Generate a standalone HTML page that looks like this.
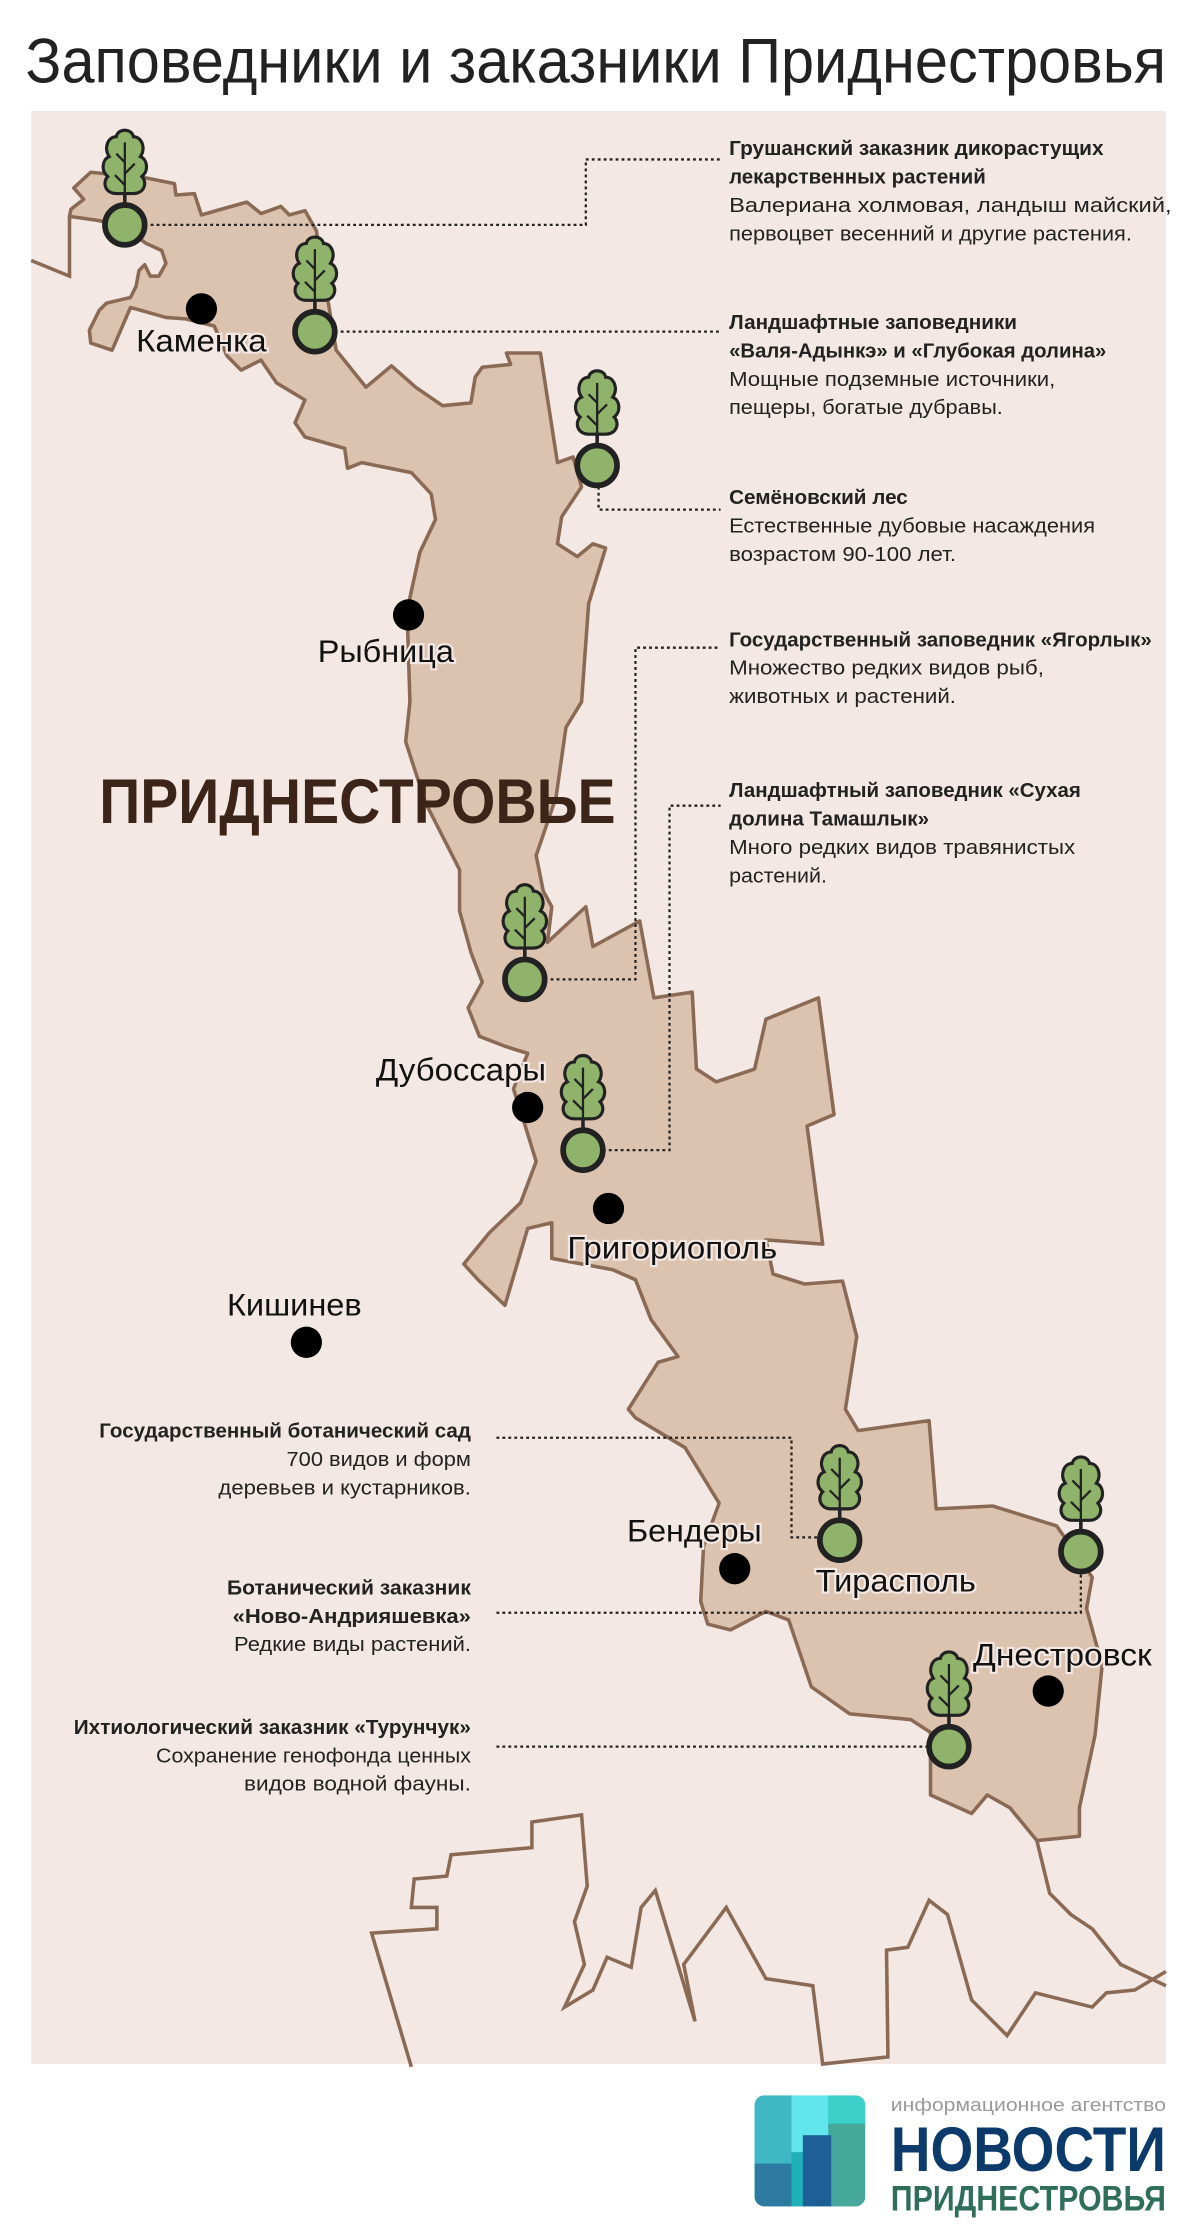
<!DOCTYPE html>
<html><head><meta charset="utf-8"><style>
html,body{margin:0;padding:0;background:#fff;}
svg{display:block;}
text{font-family:"Liberation Sans",sans-serif;}
.b{font-weight:bold;font-size:14.5px;fill:#222;}
.n{font-size:14.5px;fill:#222;}
.c{font-size:22px;fill:#111;paint-order:stroke;stroke:#f3e8e3;stroke-width:3px;}
.dl{fill:none;stroke:#222;stroke-width:1.6;stroke-dasharray:2 2.2;}
</style></head><body>
<svg width="1200" height="2232" viewBox="0 0 846 1568" preserveAspectRatio="none" xmlns="http://www.w3.org/2000/svg">
<defs>
<g id="tr">
<line x1="0" y1="-22" x2="0" y2="-12" stroke="#222" stroke-width="2.5"/>
<path d="M-6,-22 L6,-22 C14,-22 16,-30 12,-34 C17,-38 16,-46 11,-48 C15,-54 12,-62 6,-62 C5,-68 -5,-68 -6,-62 C-12,-62 -15,-54 -11,-48 C-16,-46 -17,-38 -12,-34 C-16,-30 -14,-22 -6,-22 Z" fill="#8fb36a" stroke="#222" stroke-width="2.2"/>
<path d="M0,-58 L0,-22 M0,-44 L-6,-50 M0,-36 L7,-43 M0,-28 L-7,-35" stroke="#222" stroke-width="1.6" fill="none"/>
<circle cx="0" cy="0" r="14" fill="#8fb36a" stroke="#222" stroke-width="4"/>
</g>
</defs>
<rect x="0" y="0" width="846" height="1568" fill="#fff"/>
<text x="18" y="58" font-size="44" fill="#222" textLength="804" lengthAdjust="spacingAndGlyphs">Заповедники и заказники Приднестровья</text>
<rect x="22" y="78" width="800" height="1372" fill="#f3e8e3"/>
<!-- other borders -->
<polyline points="22,183 49,194 49,152" fill="none" stroke="#8b6a55" stroke-width="2.5"/>
<polyline points="290,1452 262,1358 308,1355 308,1340 290,1340 292,1320 315,1318 318,1303 375,1298 375,1280 410,1275 414,1325 405,1350 412,1380 398,1410 418,1398 428,1375 445,1382 452,1340 462,1328 490,1420 482,1380 512,1340 540,1390 573,1395 580,1450 626,1445 625,1370 640,1368 655,1335 668,1345 685,1405 710,1430 730,1400 770,1410 780,1400 800,1398 822,1385" fill="none" stroke="#8b6a55" stroke-width="2.5"/>
<polyline points="731,1293 740,1330 755,1345 770,1355 790,1380 822,1395" fill="none" stroke="#8b6a55" stroke-width="2.5"/>
<!-- region -->
<path d="M52,132 L64,121 L103,125 L123,129 L124,137 L137,136 L142,151 L156,147 L174,142 L184,150 L198,145 L204,151 L215,148 L223,162 L237,246 L258,272 L276,257 L293,272 L312,285 L332,283 L335,265 L340,258 L360,256 L357,248 L381,248 L393,325 L404,321 L410,342 L396,363 L393,382 L407,391 L418,382 L427,385 L415,424 L410,493 L399,511 L392,560 L378,601 L383,626 L389,637 L386,662 L413,637 L418,665 L451,647 L461,701 L488,697 L491,751 L505,760 L532,751 L540,716 L577,701 L588,783 L569,791 L580,874 L540,871 L545,895 L567,902 L594,900 L604,939 L596,990 L605,1005 L655,998 L660,1060 L700,1058 L745,1072 L770,1108 L766,1130 L777,1170 L772,1219 L761,1270 L761,1290 L731,1293 L712,1270 L696,1261 L685,1274 L656,1261 L656,1217 L642,1208 L599,1204 L572,1185 L556,1138 L540,1132 L515,1145 L499,1141 L494,1125 L496,1086 L507,1056 L483,1017 L448,996 L443,990 L464,957 L478,953 L459,927 L448,899 L432,892 L389,884 L389,859 L372,863 L356,917 L337,899 L327,888 L345,866 L367,845 L378,816 L370,790 L362,765 L372,740 L356,735 L338,728 L330,708 L340,690 L332,669 L324,640 L324,611 L300,564 L286,521 L289,493 L287,429 L296,388 L307,365 L304,347 L290,332 L255,325 L245,329 L243,315 L215,307 L208,297 L215,281 L195,269 L184,253 L170,260 L160,250 L151,229 L131,224 L117,223 L92,216 L79,246 L64,241 L63,232 L70,218 L75,213 L92,209 L96,201 L98,190 L102,186 L106,194 L112,194 L117,185 L114,176 L103,171 L88,160 L70,155 L49,152 L50,147 L59,140 Z" fill="#dcc3b0" stroke="#8b6a55" stroke-width="2.5" stroke-linejoin="round"/>
<text x="70" y="578" font-size="44" font-weight="bold" fill="#3d2418" textLength="364" lengthAdjust="spacingAndGlyphs">ПРИДНЕСТРОВЬЕ</text>
<!-- connectors -->
<polyline class="dl" points="102,158 413,158 413,112 508,112"/>
<polyline class="dl" points="236,233 508,233"/>
<polyline class="dl" points="422,342 422,358 508,358"/>
<polyline class="dl" points="384,688 448,688 448,455 508,455"/>
<polyline class="dl" points="425,808 472,808 472,566 508,566"/>
<polyline class="dl" points="350,1010 558,1010 558,1080 578,1080"/>
<polyline class="dl" points="350,1133 762,1133 762,1104"/>
<polyline class="dl" points="350,1227 655,1227"/>
<!-- cities -->
<g fill="#000">
<circle cx="142" cy="217" r="11"/><circle cx="288" cy="432" r="11"/><circle cx="372" cy="778" r="11"/>
<circle cx="429" cy="849" r="11"/><circle cx="216" cy="943" r="11"/><circle cx="518" cy="1102" r="11"/>
<circle cx="739" cy="1188" r="11"/>
</g>
<text class="c" x="96" y="247" textLength="92" lengthAdjust="spacingAndGlyphs">Каменка</text>
<text class="c" x="224" y="465" textLength="96" lengthAdjust="spacingAndGlyphs">Рыбница</text>
<text class="c" x="265" y="759" textLength="120" lengthAdjust="spacingAndGlyphs">Дубоссары</text>
<text class="c" x="400" y="884" textLength="148" lengthAdjust="spacingAndGlyphs">Григориополь</text>
<text class="c" x="160" y="924" textLength="95" lengthAdjust="spacingAndGlyphs">Кишинев</text>
<text class="c" x="442" y="1083" textLength="95" lengthAdjust="spacingAndGlyphs">Бендеры</text>
<text class="c" x="575" y="1118" textLength="113" lengthAdjust="spacingAndGlyphs">Тирасполь</text>
<text class="c" x="686" y="1170" textLength="126" lengthAdjust="spacingAndGlyphs">Днестровск</text>
<!-- trees -->
<use href="#tr" x="88" y="158"/><use href="#tr" x="222" y="233"/><use href="#tr" x="421" y="327"/>
<use href="#tr" x="370" y="688"/><use href="#tr" x="411" y="808"/><use href="#tr" x="592" y="1082"/>
<use href="#tr" x="762" y="1090"/><use href="#tr" x="669" y="1227"/>
<!-- right texts -->
<g>
<text class="b" x="514" y="109" textLength="264" lengthAdjust="spacingAndGlyphs">Грушанский заказник дикорастущих</text>
<text class="b" x="514" y="129" textLength="181" lengthAdjust="spacingAndGlyphs">лекарственных растений</text>
<text class="n" x="514" y="149" textLength="312" lengthAdjust="spacingAndGlyphs">Валериана холмовая, ландыш майский,</text>
<text class="n" x="514" y="169" textLength="284" lengthAdjust="spacingAndGlyphs">первоцвет весенний и другие растения.</text>
<text class="b" x="514" y="231" textLength="203" lengthAdjust="spacingAndGlyphs">Ландшафтные заповедники</text>
<text class="b" x="514" y="251" textLength="266" lengthAdjust="spacingAndGlyphs">«Валя-Адынкэ» и «Глубокая долина»</text>
<text class="n" x="514" y="271" textLength="230" lengthAdjust="spacingAndGlyphs">Мощные подземные источники,</text>
<text class="n" x="514" y="291" textLength="193" lengthAdjust="spacingAndGlyphs">пещеры, богатые дубравы.</text>
<text class="b" x="514" y="354" textLength="126" lengthAdjust="spacingAndGlyphs">Семёновский лес</text>
<text class="n" x="514" y="374" textLength="258" lengthAdjust="spacingAndGlyphs">Естественные дубовые насаждения</text>
<text class="n" x="514" y="394" textLength="160" lengthAdjust="spacingAndGlyphs">возрастом 90-100 лет.</text>
<text class="b" x="514" y="454" textLength="298" lengthAdjust="spacingAndGlyphs">Государственный заповедник «Ягорлык»</text>
<text class="n" x="514" y="474" textLength="222" lengthAdjust="spacingAndGlyphs">Множество редких видов рыб,</text>
<text class="n" x="514" y="494" textLength="160" lengthAdjust="spacingAndGlyphs">животных и растений.</text>
<text class="b" x="514" y="560" textLength="248" lengthAdjust="spacingAndGlyphs">Ландшафтный заповедник «Сухая</text>
<text class="b" x="514" y="580" textLength="141" lengthAdjust="spacingAndGlyphs">долина Тамашлык»</text>
<text class="n" x="514" y="600" textLength="244" lengthAdjust="spacingAndGlyphs">Много редких видов травянистых</text>
<text class="n" x="514" y="620" textLength="69" lengthAdjust="spacingAndGlyphs">растений.</text>
</g>
<g text-anchor="end">
<text class="b" x="332" y="1010" textLength="262" lengthAdjust="spacingAndGlyphs">Государственный ботанический сад</text>
<text class="n" x="332" y="1030" textLength="130" lengthAdjust="spacingAndGlyphs">700 видов и форм</text>
<text class="n" x="332" y="1050" textLength="178" lengthAdjust="spacingAndGlyphs">деревьев и кустарников.</text>
<text class="b" x="332" y="1120" textLength="172" lengthAdjust="spacingAndGlyphs">Ботанический заказник</text>
<text class="b" x="332" y="1140" textLength="168" lengthAdjust="spacingAndGlyphs">«Ново-Андрияшевка»</text>
<text class="n" x="332" y="1160" textLength="167" lengthAdjust="spacingAndGlyphs">Редкие виды растений.</text>
<text class="b" x="332" y="1218" textLength="280" lengthAdjust="spacingAndGlyphs">Ихтиологический заказник «Турунчук»</text>
<text class="n" x="332" y="1238" textLength="222" lengthAdjust="spacingAndGlyphs">Сохранение генофонда ценных</text>
<text class="n" x="332" y="1258" textLength="160" lengthAdjust="spacingAndGlyphs">видов водной фауны.</text>
</g>
<!-- logo -->
<defs><clipPath id="lc"><rect x="532" y="1472" width="78" height="78" rx="7"/></clipPath></defs>
<g clip-path="url(#lc)">
<rect x="532" y="1472" width="78" height="78" fill="#2a8fa0"/>
<rect x="532" y="1472" width="26" height="78" fill="#3fb7c4"/>
<rect x="558" y="1472" width="26" height="40" fill="#62e6ee"/>
<rect x="558" y="1512" width="26" height="38" fill="#1fb0b8"/>
<rect x="584" y="1472" width="26" height="20" fill="#3dd0c8"/>
<rect x="584" y="1492" width="26" height="58" fill="#46a89a"/>
<rect x="566" y="1500" width="20" height="50" fill="#1d5f96"/>
<rect x="532" y="1520" width="26" height="30" fill="#2c7aa0"/>
</g>
<text x="628" y="1483" font-size="13" fill="#999" textLength="194" lengthAdjust="spacingAndGlyphs">информационное агентство</text>
<text x="628" y="1525" font-size="44" font-weight="bold" fill="#0b3a6b" textLength="194" lengthAdjust="spacingAndGlyphs">НОВОСТИ</text>
<text x="628" y="1553" font-size="25" font-weight="bold" fill="#2f6f5a" textLength="194" lengthAdjust="spacingAndGlyphs">ПРИДНЕСТРОВЬЯ</text>
</svg>
</body></html>
